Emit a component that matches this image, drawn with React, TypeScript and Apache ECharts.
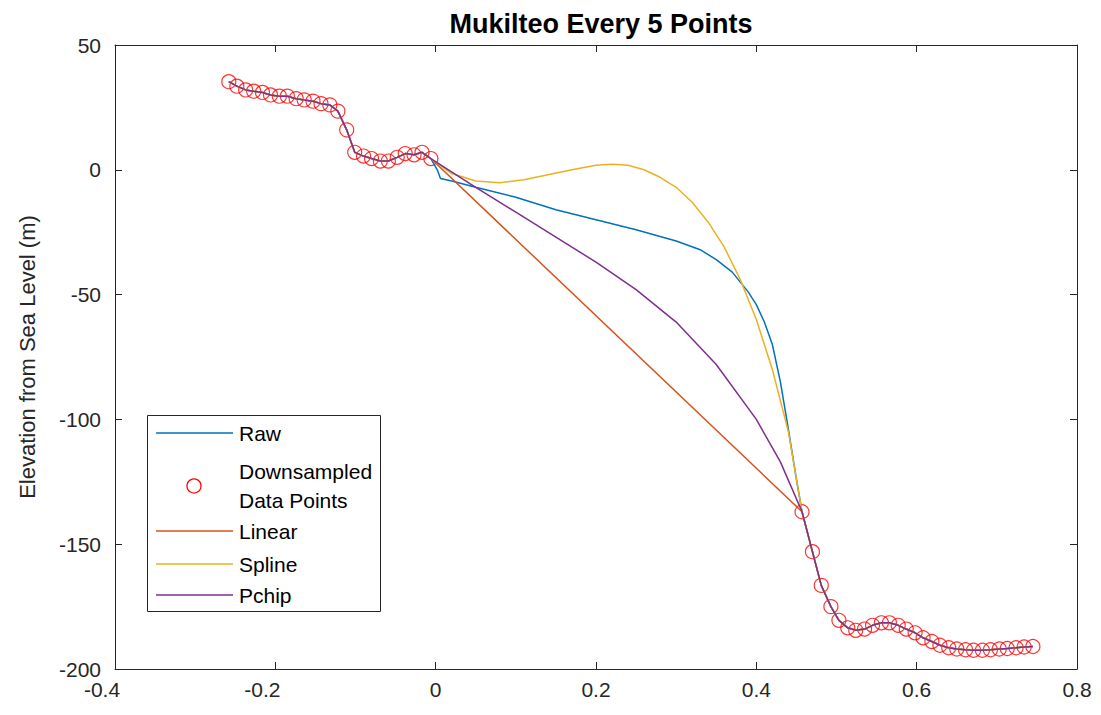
import { useEffect, useRef } from "react";
import * as echarts from "echarts";

// Downsampled profile points (every 5th survey point), distance vs elevation
const sampleX = [
  -0.258, -0.248, -0.237, -0.227, -0.216, -0.206, -0.195, -0.185, -0.174, -0.164,
  -0.153, -0.143, -0.132, -0.122, -0.111, -0.101, -0.09, -0.08, -0.069, -0.059,
  -0.048, -0.038, -0.027, -0.017, -0.006,
  0.457, 0.47, 0.481, 0.493, 0.503, 0.514, 0.524, 0.535, 0.545, 0.556,
  0.566, 0.577, 0.587, 0.598, 0.608, 0.619, 0.629, 0.64, 0.65, 0.661,
  0.671, 0.682, 0.692, 0.703, 0.713, 0.724, 0.734, 0.745,
];
const sampleY = [
  35.3, 33.5, 32, 31.5, 31, 30, 29.5, 29.5, 28.5, 28,
  27.5, 26.5, 26, 23.5, 16, 7, 5.5, 4.5, 3.5, 3.5,
  5, 6.5, 6, 7, 4.5,
  -137, -153, -166.5, -175, -180.5, -183.5, -184.5, -184, -182.5, -181.5,
  -181.5, -182.5, -184, -185.5, -187.5, -189, -190.5, -191.5, -192, -192.3,
  -192.5, -192.5, -192.3, -192, -191.8, -191.5, -191.2, -191,
];

// Raw survey values inside the gap left out of the downsampled set
const rawGapX = [0.002, 0.006, 0.02, 0.05, 0.1, 0.15, 0.2, 0.25, 0.3, 0.33, 0.35, 0.37, 0.39, 0.4, 0.41, 0.42, 0.43, 0.44, 0.45];
const rawGapY = [0, -3.5, -4.5, -7, -11, -16, -20, -24, -28.5, -32, -36, -41, -49, -54, -61, -70, -85, -104, -124];

// Spline interpolant across the gap
const splineGapX = [0.02, 0.05, 0.08, 0.11, 0.14, 0.17, 0.2, 0.22, 0.24, 0.26, 0.28, 0.3, 0.32, 0.34, 0.36, 0.38, 0.4, 0.42, 0.44];
const splineGapY = [-1.5, -4.5, -5.2, -4, -2, 0, 1.8, 2.2, 1.8, 0, -3, -7, -13, -21, -31, -44, -60, -80, -105];

// Pchip interpolant across the gap
const pchipGapX = [0.05, 0.1, 0.15, 0.2, 0.25, 0.3, 0.35, 0.4, 0.43];
const pchipGapY = [-7, -17, -27, -37, -48, -61, -78, -100, -117];

const seriesNames = ["Raw", "Downsampled\nData Points", "Linear", "Spline", "Pchip"];
const seriesColors = ["#0072BD", "#FF0000", "#D95319", "#EDB120", "#7E2F8E"];

const xMin = -0.4;
const xMax = 0.8;
const xStep = 0.2;
const yMin = -200;
const yMax = 50;
const yStep = 50;

const axisColor = "#262626";
const fontFamily = "'Liberation Sans', Arial, Helvetica, sans-serif";

type Pt = [number, number];

const zipPts = (xs: number[], ys: number[]): Pt[] => xs.map((x, i) => [x, ys[i]]);

// Splice a gap section between the left and right groups of samples
const withGap = (gx: number[], gy: number[]): Pt[] => {
  const all = zipPts(sampleX, sampleY);
  const left = all.filter((p) => p[0] < 0.2);
  const right = all.filter((p) => p[0] >= 0.2);
  return [...left, ...zipPts(gx, gy), ...right];
};

export default function App() {
  const ref = useRef<HTMLDivElement>(null);

  useEffect(() => {
    if (!ref.current) return;
    const chart = echarts.init(ref.current, undefined, { renderer: "svg" });

    const lineSeries = (name: string, color: string, data: Pt[]) => ({
      name,
      type: "line",
      data,
      symbol: "none",
      smooth: false,
      lineStyle: { color, width: 1.5 },
      itemStyle: { color },
      xAxisIndex: 0,
      yAxisIndex: 0,
    });

    // Legend drawn as a boxed key in the lower left of the plot
    const legendLeft = 147.5;
    const legendTop = 415.5;
    const rowY = [433, 486, 531, 564, 595];
    const legendItems: any[] = [
      {
        type: "rect",
        shape: { x: legendLeft, y: legendTop, width: 233, height: 196 },
        style: { fill: "#fff", stroke: axisColor, lineWidth: 1 },
        z: 100,
      },
    ];
    seriesNames.forEach((name, i) => {
      if (i === 1) {
        legendItems.push({
          type: "circle",
          shape: { cx: 194, cy: rowY[i], r: 7 },
          style: { fill: "none", stroke: seriesColors[i], lineWidth: 1.3 },
          z: 101,
        });
      } else {
        legendItems.push({
          type: "line",
          shape: { x1: 156, y1: rowY[i], x2: 233, y2: rowY[i] },
          style: { stroke: seriesColors[i], lineWidth: 1.5 },
          z: 101,
        });
      }
      legendItems.push({
        type: "text",
        x: 239,
        y: rowY[i],
        style: {
          text: name,
          fill: "#000",
          font: `21px ${fontFamily}`,
          verticalAlign: "middle",
          align: "left",
          lineHeight: 29,
        },
        z: 101,
      });
    });

    const baseX = {
      type: "value",
      min: xMin,
      max: xMax,
      interval: xStep,
      splitLine: { show: false },
      axisLine: { show: true, onZero: false, lineStyle: { color: axisColor, width: 1 } },
      axisTick: { show: true, inside: true, length: 7, lineStyle: { color: axisColor } },
    };
    const baseY = {
      type: "value",
      min: yMin,
      max: yMax,
      interval: yStep,
      splitLine: { show: false },
      axisLine: { show: true, onZero: false, lineStyle: { color: axisColor, width: 1 } },
      axisTick: { show: true, inside: true, length: 7, lineStyle: { color: axisColor } },
    };

    const fmtX = (v: number) => {
      const s = String(Math.round(v * 10) / 10);
      return v < 0 ? `{neg|${s}}` : s;
    };

    chart.setOption({
      animation: false,
      backgroundColor: "#fff",
      title: {
        text: "Mukilteo Every 5 Points",
        left: 596,
        textAlign: "center",
        top: 5,
        textStyle: { fontSize: 27, fontWeight: "bold", color: "#000", fontFamily },
      },
      grid: { left: 115, right: 24, top: 45, bottom: 46 },
      xAxis: [
        {
          ...baseX,
          position: "bottom",
          axisLabel: {
            color: axisColor,
            fontSize: 21,
            margin: 10,
            fontFamily,
            formatter: fmtX,
            rich: {
              neg: { color: axisColor, fontSize: 21, fontFamily, padding: [0, 26, 0, 0] },
            },
          },
        },
        { ...baseX, position: "top", axisLabel: { show: false } },
      ],
      yAxis: [
        {
          ...baseY,
          position: "left",
          name: "Elevation from Sea Level (m)",
          nameLocation: "middle",
          nameGap: 77,
          nameTextStyle: { color: axisColor, fontSize: 22, fontFamily },
          axisLabel: { color: axisColor, fontSize: 21, margin: 14, fontFamily },
        },
        { ...baseY, position: "right", axisLabel: { show: false } },
      ],
      graphic: legendItems,
      series: [
        lineSeries(seriesNames[0], seriesColors[0], withGap(rawGapX, rawGapY)),
        {
          name: seriesNames[1],
          type: "scatter",
          data: zipPts(sampleX, sampleY),
          symbol: "circle",
          symbolSize: 14,
          itemStyle: { color: "transparent", borderColor: seriesColors[1], borderWidth: 1.2 },
          xAxisIndex: 0,
          yAxisIndex: 0,
        },
        lineSeries(seriesNames[2], seriesColors[2], zipPts(sampleX, sampleY)),
        lineSeries(seriesNames[3], seriesColors[3], withGap(splineGapX, splineGapY)),
        lineSeries(seriesNames[4], seriesColors[4], withGap(pchipGapX, pchipGapY)),
      ],
    });

    return () => chart.dispose();
  }, []);

  return (
    <div
      ref={ref}
      style={{ position: "absolute", left: 0, top: 0, width: 1101, height: 715 }}
    />
  );
}
